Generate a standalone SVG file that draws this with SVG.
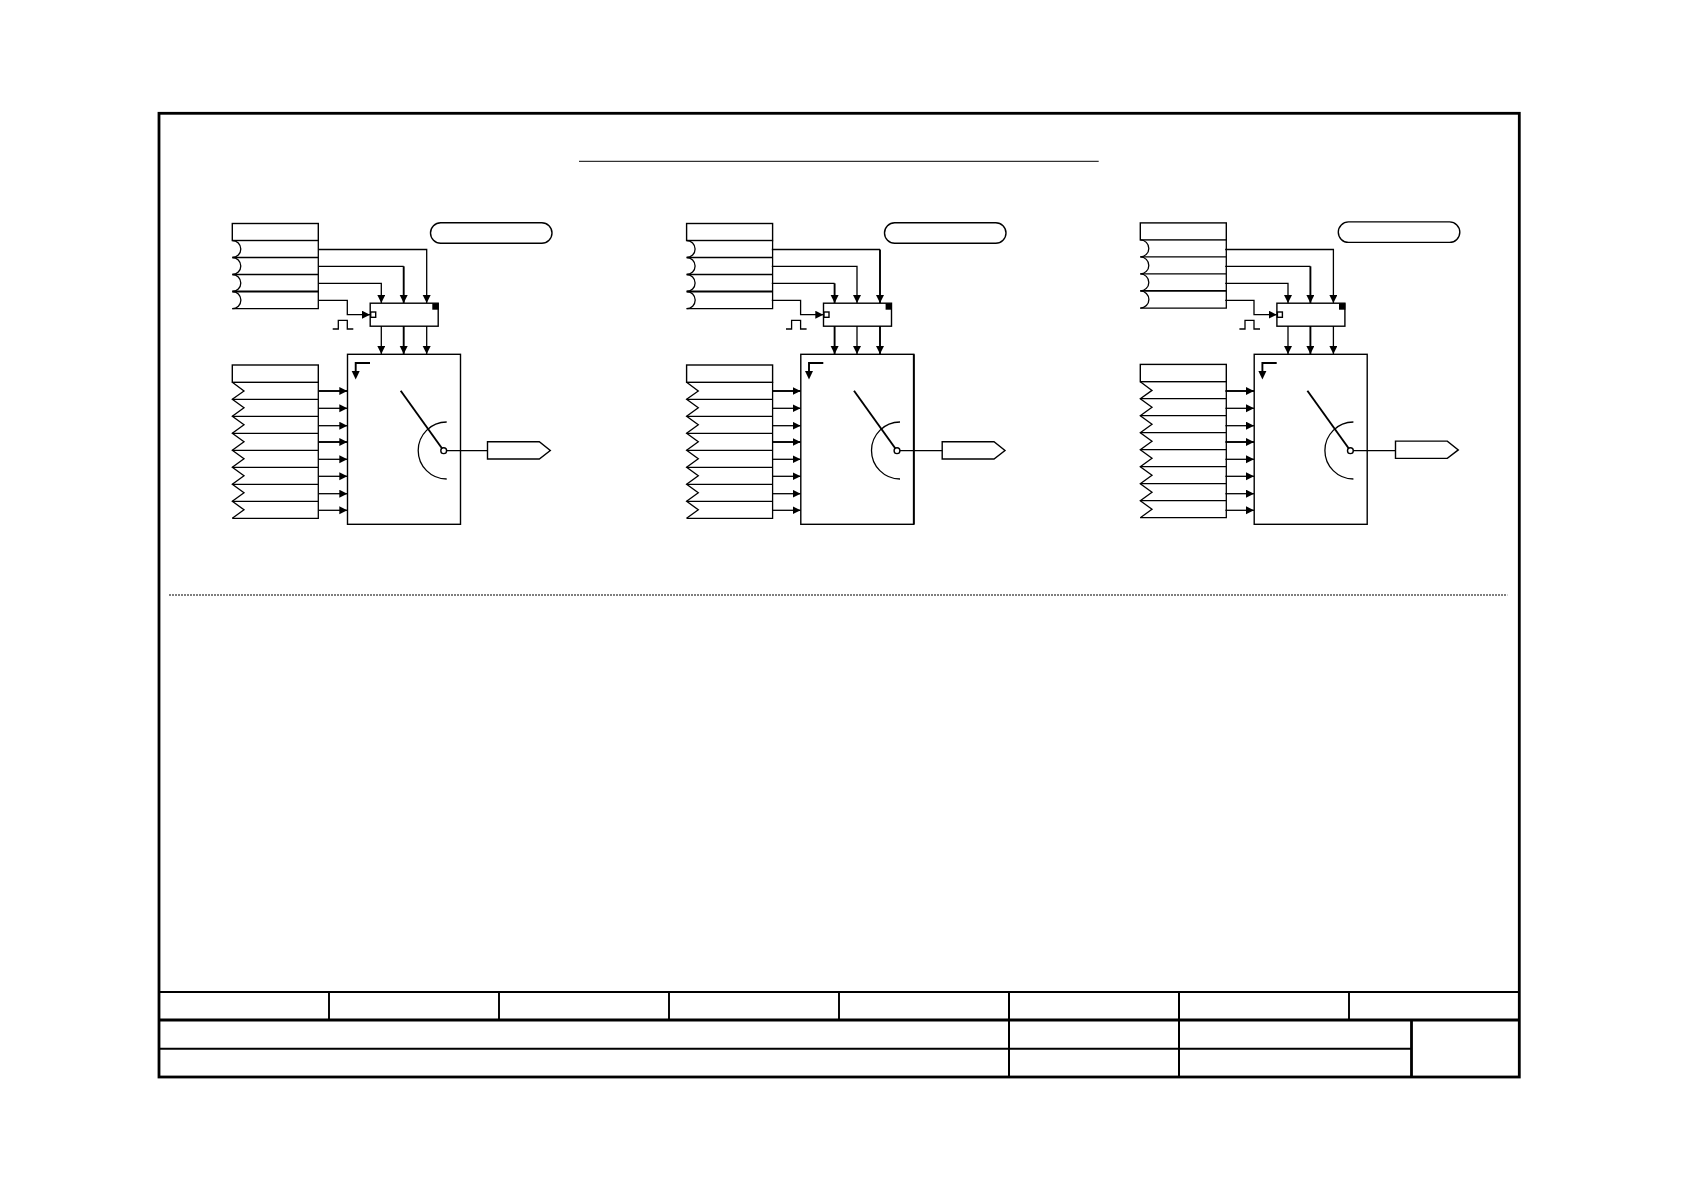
<svg xmlns="http://www.w3.org/2000/svg" width="1684" height="1190" viewBox="0 0 1684 1190">
<style>
.s{fill:none;stroke:#000;stroke-width:1.3}
.n{fill:#fff;stroke:#000;stroke-width:1.4}
.t{fill:none;stroke:#000;stroke-width:1.9}
.w{fill:none;stroke:#000;stroke-width:2}
.f{fill:none;stroke:#000;stroke-width:2.8}
.c{fill:none;stroke:#000;stroke-width:1}
.k{fill:none;stroke:#000;stroke-width:1.9}
.a{marker-end:url(#ah)}
</style>
<defs>
<marker id="ah" markerUnits="userSpaceOnUse" markerWidth="9" markerHeight="9" refX="8" refY="4" orient="auto"><path d="M0 0L8 4L0 8Z" fill="#000"/></marker>
<g id="tableA">
<rect class="n" x="232.300" y="223.500" width="86" height="17"/>
<path class="s" d="M232.300 240.500A8.500 8.500 0 0 1 232.300 257.500A8.500 8.500 0 0 1 232.300 274.500A8.500 8.500 0 0 1 232.300 291.500A8.500 8.500 0 0 1 232.300 308.700"/>
<path class="s" d="M232.300 257.500H318.300M232.300 274.500H318.300M232.300 308.700H318.300V240.500"/>
<path class="t" d="M232.300 291.500H318.300"/>
</g>
<g id="tableB">
<rect class="n" x="232.300" y="365" width="86" height="17.300"/>
<path class="s" d="M232.300 382.300L244 391L232.300 399.300L244 407.800L232.300 416.300L244 424.800L232.300 433.300L244 441.800L232.300 450.300L244 458.800L232.300 467.300L244 475.800L232.300 484.300L244 492.800L232.300 501.300L244 509.800L232.300 518.300"/>
<path class="s" d="M232.300 399.300H318.300M232.300 416.300H318.300M232.300 433.300H318.300M232.300 450.300H318.300M232.300 467.300H318.300M232.300 484.300H318.300M232.300 501.300H318.300M232.300 518.300H318.300V382.300"/>
</g>
<g id="reg">
<rect class="n" x="370.200" y="303.200" width="68" height="23"/>
<rect x="432.300" y="303.300" width="6.400" height="6.400" fill="#000"/>
<rect class="n" x="370.700" y="312" width="5" height="5.300"/>
<path class="s" d="M332.700 329H338.300V320.300H347.300V329H353.300"/>
</g>
<g id="sel">
<rect class="n" x="347.500" y="354.300" width="113" height="170"/>
<path class="k" d="M370 363H355.700V372"/>
<path d="M351.700 371H359.700L355.700 379.500Z" fill="#000"/>
<path class="k" d="M400.700 390.700L443.700 450.700"/>
<path class="s" d="M446.700 422A28.500 28.500 0 0 0 446.700 479"/>
<circle class="n" cx="443.700" cy="450.700" r="2.900"/>
</g>
<rect id="pillS" class="n" x="430.500" y="222.700" width="121.500" height="20.500" rx="10.200"/>
<path id="pentS" class="n" d="M487.500 441.700H539.300L550.300 450.500L539.300 459H487.500Z"/>
</defs>

<g id="frame">
<rect class="f" x="159" y="113.300" width="1360.300" height="963.700"/>
<path class="c" d="M579 161.300H1098.700"/>
<path stroke="#000" stroke-width="1.100" stroke-dasharray="2 1" fill="none" d="M169 595H1507.300"/>
</g>
<g id="title-block">
<path class="t" d="M159 992H1519.300M329 992V1020M499 992V1020M669 992V1020M839 992V1020M1349 992V1020"/>
<path class="f" d="M159 1020H1519.300M1411.500 1020V1077"/>
<path class="w" d="M159 1048.700H1411.500M1009 992V1077M1179 992V1077"/>
</g>

<g id="panel-1-table-a"><use href="#tableA"/></g>
<g id="panel-1-table-b"><use href="#tableB"/></g>
<g id="panel-1-register"><use href="#reg"/></g>
<g id="panel-1-selector"><use href="#sel"/></g>
<g id="panel-1-pill"><use href="#pillS"/></g>
<g id="panel-1-output"><use href="#pentS"/></g>

<g id="panel-2-table-a" transform="translate(454.300 0)"><use href="#tableA"/></g>
<g id="panel-2-table-b" transform="translate(454.300 0)"><use href="#tableB"/></g>
<g id="panel-2-register" transform="translate(453.300 0)"><use href="#reg"/></g>
<g id="panel-2-selector" transform="translate(453.300 0)"><use href="#sel"/><path class="t" d="M460.500 354.300V524.300"/></g>
<g id="panel-2-pill" transform="translate(454 0)"><use href="#pillS"/></g>
<g id="panel-2-output" transform="translate(454.700 0)"><use href="#pentS"/></g>

<g id="panel-3-table-a" transform="translate(908 -0.600)"><use href="#tableA"/></g>
<g id="panel-3-table-b" transform="translate(908 -0.600)"><use href="#tableB"/></g>
<g id="panel-3-register" transform="translate(906.700 0)"><use href="#reg"/></g>
<g id="panel-3-selector" transform="translate(906.700 0)"><use href="#sel"/></g>
<g id="panel-3-pill" transform="translate(907.800 -0.800)"><use href="#pillS"/></g>
<g id="panel-3-output" transform="translate(908 -0.600)"><use href="#pentS"/></g>

<g id="connectors">
<g id="connectors-1">
<path class="s a" d="M318.500 249.500H426.700V303"/>
<path class="s" d="M318.500 266.300H403.700"/><path class="t a" d="M403.700 266.300V303"/>
<path class="s a" d="M318.500 283.300H381.300V303"/>
<path class="s a" d="M318.500 300.300H347.300V314.700H370"/>
<path class="s a" d="M381.300 326V354"/><path class="t a" d="M403.700 326V354"/><path class="s a" d="M426.700 326V354"/>
<path class="t a" d="M318.700 391H347.300"/><path class="s a" d="M318.700 408.300H347.300"/><path class="s a" d="M318.700 425.700H347.300"/><path class="t a" d="M318.700 442H347.300"/><path class="s a" d="M318.700 459.300H347.300"/><path class="s a" d="M318.700 476.300H347.300"/><path class="s a" d="M318.700 493.700H347.300"/><path class="s a" d="M318.700 510.300H347.300"/>
<path class="s" d="M446.600 450.700H487.300"/>
</g>
<g id="connectors-2" transform="translate(453.300 0)">
<path class="s" d="M318.500 249.500H426.700"/><path class="t a" d="M426.700 249.500V303"/>
<path class="s a" d="M318.500 266.300H403.700V303"/>
<path class="s" d="M318.500 283.300H381.300"/><path class="t a" d="M381.300 283.300V303"/>
<path class="s a" d="M318.500 300.300H347.300V314.700H370"/>
<path class="t a" d="M381.300 326V354"/><path class="s a" d="M403.700 326V354"/><path class="t a" d="M426.700 326V354"/>
<path class="t a" d="M318.700 391H347.300"/><path class="s a" d="M318.700 408.300H347.300"/><path class="s a" d="M318.700 425.700H347.300"/><path class="t a" d="M318.700 442H347.300"/><path class="s a" d="M318.700 459.300H347.300"/><path class="s a" d="M318.700 476.300H347.300"/><path class="s a" d="M318.700 493.700H347.300"/><path class="s a" d="M318.700 510.300H347.300"/>
<path class="s" d="M446.600 450.700H489"/>
</g>
<g id="connectors-3" transform="translate(906.700 0)">
<path class="s a" d="M318.500 249.500H426.700V303"/>
<path class="s" d="M318.500 266.300H403.700"/><path class="t a" d="M403.700 266.300V303"/>
<path class="s a" d="M318.500 283.300H381.300V303"/>
<path class="s a" d="M318.500 300.300H347.300V314.700H370"/>
<path class="s a" d="M381.300 326V354"/><path class="t a" d="M403.700 326V354"/><path class="s a" d="M426.700 326V354"/>
<path class="t a" d="M318.700 391H347.300"/><path class="s a" d="M318.700 408.300H347.300"/><path class="s a" d="M318.700 425.700H347.300"/><path class="t a" d="M318.700 442H347.300"/><path class="s a" d="M318.700 459.300H347.300"/><path class="s a" d="M318.700 476.300H347.300"/><path class="s a" d="M318.700 493.700H347.300"/><path class="s a" d="M318.700 510.300H347.300"/>
<path class="s" d="M446.600 450.700H489"/>
</g>
</g>
</svg>
